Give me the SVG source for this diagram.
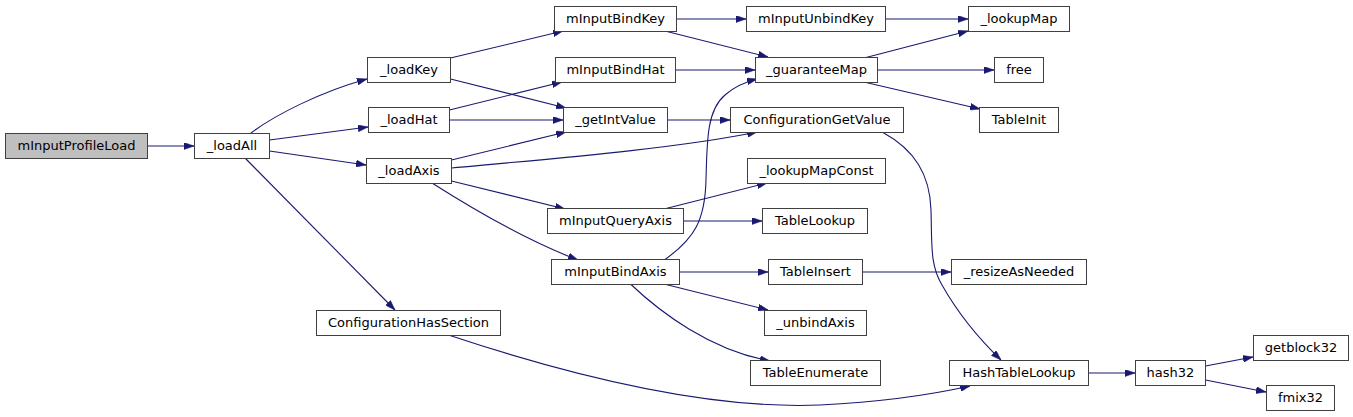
<svg xmlns="http://www.w3.org/2000/svg" width="1353" height="417" viewBox="0 0 1353 417">
<defs>
<style>
.n rect{fill:#ffffff;stroke:#404040;stroke-width:1}
.n.root rect{fill:#bfbfbf}
.n text{font-family:"DejaVu Sans","Liberation Sans",sans-serif;font-size:13px;fill:#000;text-anchor:middle}
.e path{fill:none;stroke:#191970;stroke-width:1.1}
</style>
<marker id="ah" viewBox="0 0 10 7" refX="10" refY="3.5" markerWidth="10" markerHeight="7" markerUnits="userSpaceOnUse" orient="auto">
<path d="M0,0 L10,3.5 L0,7 z" fill="#191970" stroke="#191970" stroke-width="0.5"/>
</marker>
</defs>
<rect width="1353" height="417" fill="#ffffff"/>
<g id="edges" class="e">
<path d="M147.5,146 L194,146" marker-end="url(#ah)"/>
<path d="M251,133 C275,115 320,92 367,79" marker-end="url(#ah)"/>
<path d="M269.5,140 L368,127" marker-end="url(#ah)"/>
<path d="M269.5,151 L366,165" marker-end="url(#ah)"/>
<path d="M245,158 L395,310" marker-end="url(#ah)"/>
<path d="M450.5,58 L563,31" marker-end="url(#ah)"/>
<path d="M450.5,79 L566,108" marker-end="url(#ah)"/>
<path d="M449.5,110 L562,82" marker-end="url(#ah)"/>
<path d="M449.5,120 L563,120" marker-end="url(#ah)"/>
<path d="M451.5,160 L566,132" marker-end="url(#ah)"/>
<path d="M451.5,168 C560,158 680,148 757,132" marker-end="url(#ah)"/>
<path d="M451.5,181 L565,209" marker-end="url(#ah)"/>
<path d="M432,183 C465,204 525,240 578,260" marker-end="url(#ah)"/>
<path d="M676.5,19 L746,19" marker-end="url(#ah)"/>
<path d="M667,31.5 L768,57" marker-end="url(#ah)"/>
<path d="M675.5,70 L755,70" marker-end="url(#ah)"/>
<path d="M667.5,120 L730,120" marker-end="url(#ah)"/>
<path d="M666,208.5 L767,183" marker-end="url(#ah)"/>
<path d="M683.5,221 L762,221" marker-end="url(#ah)"/>
<path d="M665,259.5 C695,238 705,220 706,180 C707,140 707,110 725,95 C735,86 745,82 757,79" marker-end="url(#ah)"/>
<path d="M679.5,272 L768,272" marker-end="url(#ah)"/>
<path d="M666,284.5 L768,310" marker-end="url(#ah)"/>
<path d="M631,284.5 C660,312 710,350 770,361" marker-end="url(#ah)"/>
<path d="M885.5,19 L968,19" marker-end="url(#ah)"/>
<path d="M866,57.5 L968,31" marker-end="url(#ah)"/>
<path d="M877.5,70 L994,70" marker-end="url(#ah)"/>
<path d="M866,82.5 L980,109" marker-end="url(#ah)"/>
<path d="M883,132.5 C915,150 930,175 931,210 C932,245 930,265 942,285 C955,308 975,335 1001,360" marker-end="url(#ah)"/>
<path d="M862.5,272 L951,272" marker-end="url(#ah)"/>
<path d="M450,335.5 C560,372 700,410 820,405 C880,402 930,395 970,386" marker-end="url(#ah)"/>
<path d="M1088.5,373 L1135,373" marker-end="url(#ah)"/>
<path d="M1205.5,366 L1253,357" marker-end="url(#ah)"/>
<path d="M1205.5,380 L1266,392" marker-end="url(#ah)"/>
</g>
<g id="mInputProfileLoad" class="n root"><rect x="5.5" y="133.5" width="142" height="25"/><text x="76.5" y="149.5">mInputProfileLoad</text></g>
<g id="_loadAll" class="n"><rect x="194.5" y="133.5" width="75" height="25"/><text x="232" y="149.5">_loadAll</text></g>
<g id="_loadKey" class="n"><rect x="367.5" y="57.5" width="83" height="25"/><text x="409" y="73.5">_loadKey</text></g>
<g id="_loadHat" class="n"><rect x="368.5" y="107.5" width="81" height="25"/><text x="409" y="123.5">_loadHat</text></g>
<g id="_loadAxis" class="n"><rect x="366.5" y="158.5" width="85" height="25"/><text x="409" y="174.5">_loadAxis</text></g>
<g id="ConfigurationHasSection" class="n"><rect x="316.5" y="310.5" width="184" height="25"/><text x="408.5" y="326.5">ConfigurationHasSection</text></g>
<g id="mInputBindKey" class="n"><rect x="554.5" y="6.5" width="122" height="25"/><text x="615.5" y="22.5">mInputBindKey</text></g>
<g id="mInputBindHat" class="n"><rect x="555.5" y="57.5" width="120" height="25"/><text x="615.5" y="73.5">mInputBindHat</text></g>
<g id="_getIntValue" class="n"><rect x="563.5" y="107.5" width="104" height="25"/><text x="615.5" y="123.5">_getIntValue</text></g>
<g id="mInputQueryAxis" class="n"><rect x="547.5" y="208.5" width="136" height="25"/><text x="615.5" y="224.5">mInputQueryAxis</text></g>
<g id="mInputBindAxis" class="n"><rect x="551.5" y="259.5" width="128" height="25"/><text x="615.5" y="275.5">mInputBindAxis</text></g>
<g id="mInputUnbindKey" class="n"><rect x="746.5" y="6.5" width="139" height="25"/><text x="816" y="22.5">mInputUnbindKey</text></g>
<g id="_guaranteeMap" class="n"><rect x="755.5" y="57.5" width="122" height="25"/><text x="816.5" y="73.5">_guaranteeMap</text></g>
<g id="ConfigurationGetValue" class="n"><rect x="730.5" y="107.5" width="173" height="25"/><text x="817" y="123.5">ConfigurationGetValue</text></g>
<g id="_lookupMapConst" class="n"><rect x="747.5" y="158.5" width="138" height="25"/><text x="816.5" y="174.5">_lookupMapConst</text></g>
<g id="TableLookup" class="n"><rect x="762.5" y="208.5" width="105" height="25"/><text x="815" y="224.5">TableLookup</text></g>
<g id="TableInsert" class="n"><rect x="768.5" y="259.5" width="94" height="25"/><text x="815.5" y="275.5">TableInsert</text></g>
<g id="_unbindAxis" class="n"><rect x="764.5" y="310.5" width="102" height="25"/><text x="815.5" y="326.5">_unbindAxis</text></g>
<g id="TableEnumerate" class="n"><rect x="750.5" y="360.5" width="130" height="25"/><text x="815.5" y="376.5">TableEnumerate</text></g>
<g id="_lookupMap" class="n"><rect x="968.5" y="6.5" width="101" height="25"/><text x="1019" y="22.5">_lookupMap</text></g>
<g id="free" class="n"><rect x="994.5" y="57.5" width="49" height="25"/><text x="1019" y="73.5">free</text></g>
<g id="TableInit" class="n"><rect x="979.5" y="107.5" width="79" height="25"/><text x="1019" y="123.5">TableInit</text></g>
<g id="_resizeAsNeeded" class="n"><rect x="951.5" y="259.5" width="135" height="25"/><text x="1019" y="275.5">_resizeAsNeeded</text></g>
<g id="HashTableLookup" class="n"><rect x="949.5" y="360.5" width="139" height="25"/><text x="1019" y="376.5">HashTableLookup</text></g>
<g id="hash32" class="n"><rect x="1135.5" y="360.5" width="70" height="25"/><text x="1170.5" y="376.5">hash32</text></g>
<g id="getblock32" class="n"><rect x="1253.5" y="335.5" width="95" height="25"/><text x="1301" y="351.5">getblock32</text></g>
<g id="fmix32" class="n"><rect x="1266.5" y="385.5" width="68" height="25"/><text x="1300.5" y="401.5">fmix32</text></g>
</svg>
